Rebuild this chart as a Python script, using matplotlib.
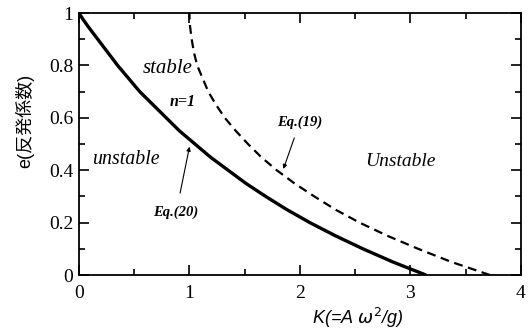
import matplotlib
matplotlib.use("Agg")
import matplotlib.pyplot as plt
from matplotlib.ticker import MultipleLocator

# Eq.(20) solid curve (n=1): restitution e vs K
e_vals = [0.00, 0.05, 0.10, 0.15, 0.20, 0.25, 0.30, 0.35, 0.40, 0.45, 0.50,
          0.55, 0.60, 0.65, 0.70, 0.75, 0.80, 0.85, 0.90, 0.95, 0.98, 1.00]
K_eq20 = [3.14, 2.84, 2.57, 2.32, 2.09, 1.88, 1.69, 1.51, 1.35, 1.19, 1.05,
          0.91, 0.79, 0.67, 0.55, 0.45, 0.35, 0.26, 0.17, 0.08, 0.03, 0.00]
# Eq.(19) dashed curve
K_eq19 = [3.72, 3.37, 3.07, 2.79, 2.54, 2.32, 2.13, 1.95, 1.79, 1.65, 1.53,
          1.42, 1.32, 1.24, 1.17, 1.12, 1.07, 1.04, 1.02, 1.005, 1.00, 1.00]

x_ticks = [0, 1, 2, 3, 4]
x_ticklabels = ["0", "1", "2", "3", "4"]
y_ticks = [0, 0.2, 0.4, 0.6, 0.8, 1.0]
y_ticklabels = ["0", "0.2", "0.4", "0.6", "0.8", "1"]

fig = plt.figure(figsize=(5.31, 3.36), dpi=100)
ax = fig.add_axes([0.1488, 0.1815, 0.8322, 0.7795])

ax.plot(K_eq20, e_vals, color="black", lw=2.4, solid_capstyle="butt")
ax.plot(K_eq19, e_vals, color="black", lw=1.6, dashes=(4, 2.5))

ax.set_xlim(0, 4)
ax.set_ylim(0, 1)
ax.set_xticks(x_ticks)
ax.set_xticklabels(x_ticklabels)
ax.set_yticks(y_ticks)
ax.set_yticklabels(y_ticklabels)
ax.xaxis.set_minor_locator(MultipleLocator(0.5))
ax.yaxis.set_minor_locator(MultipleLocator(0.1))
ax.tick_params(which="both", direction="in", top=True, right=True, width=1.2)
ax.tick_params(which="major", length=7, labelsize=14)
ax.tick_params(axis="x", which="major", pad=7)
ax.tick_params(axis="y", which="major", pad=4)
ax.tick_params(which="minor", length=4)
for lab in ax.get_xticklabels() + ax.get_yticklabels():
    lab.set_family("Liberation Serif")
for sp in ax.spines.values():
    sp.set_linewidth(1.3)

ax.set_xlabel(r"K(=A $\omega^2$/g)", family=["Liberation Sans"], style="italic",
              fontsize=13, va="center")
ax.xaxis.set_label_coords(0.631, -0.164)
ax.set_ylabel("e(反発係数)", family=["Liberation Sans", "Noto Sans CJK JP"],
              fontsize=13, va="center")
ax.yaxis.set_label_coords(-0.124, 0.59)

serif = "Liberation Serif"
ax.text(0.80, 0.79, "stable", family=serif, style="italic", fontsize=15,
        ha="center", va="center")
ax.text(0.94, 0.66, "n=1", family=serif, style="italic", weight="bold",
        fontsize=11.5, ha="center", va="center")
ax.text(0.42, 0.44, "unstable", family=serif, style="italic", fontsize=14.3,
        ha="center", va="center")
ax.text(2.91, 0.435, "Unstable", family=serif, style="italic", fontsize=14,
        ha="center", va="center")

ax.annotate("Eq.(19)", xy=(1.85, 0.405), xytext=(2.0, 0.585),
            family=serif, style="italic", weight="bold", fontsize=10.5,
            ha="center", va="center",
            arrowprops=dict(arrowstyle="-|>", color="black", lw=0.8,
                            mutation_scale=6, shrinkA=5, shrinkB=0))
ax.annotate("Eq.(20)", xy=(1.0, 0.49), xytext=(0.88, 0.24),
            family=serif, style="italic", weight="bold", fontsize=10.5,
            ha="center", va="center",
            arrowprops=dict(arrowstyle="-|>", color="black", lw=0.8,
                            mutation_scale=6, shrinkA=7, shrinkB=0))

fig.savefig("out.png", dpi=100)
